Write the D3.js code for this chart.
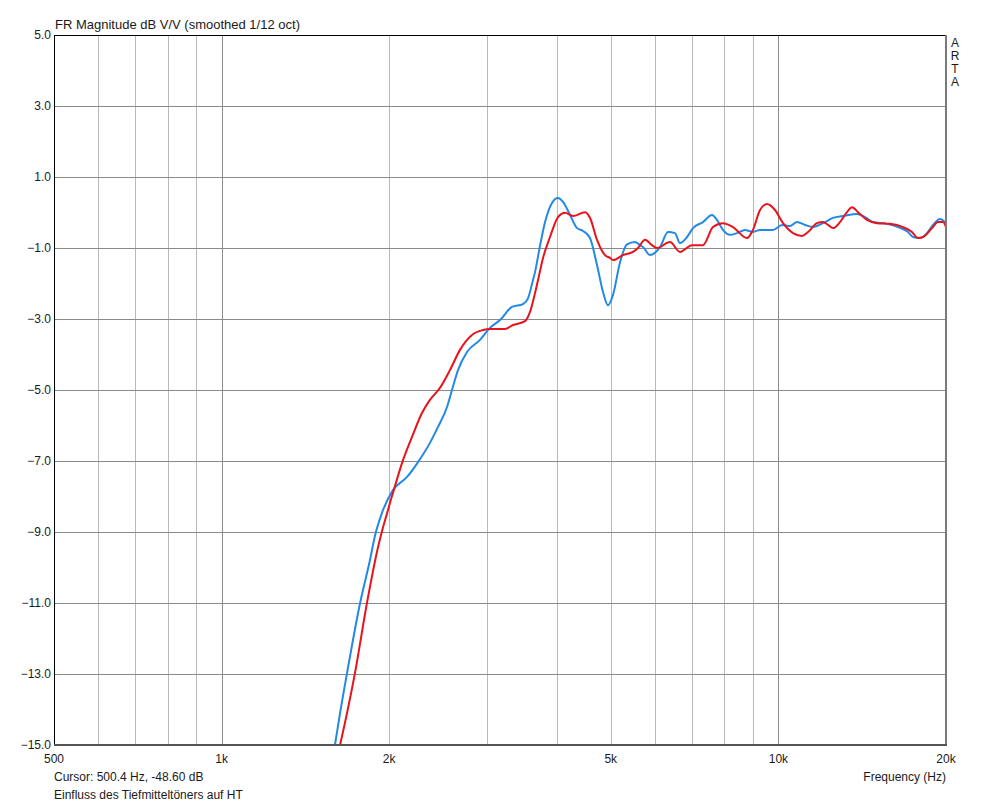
<!DOCTYPE html>
<html>
<head>
<meta charset="utf-8">
<script src="https://cdn.jsdelivr.net/npm/d3@7"></script>
<style>
  body { margin: 0; background: #fff; }
  svg text { font-family: "Liberation Sans", Arial, sans-serif; font-size: 12px; fill: #1a1a1a; }
</style>
</head>
<body>
<div id="chart"></div>
<script>
// measured curves: frequency (Hz) and level (dB)
const blueFreq = [1598, 1632, 1680, 1773, 1847, 1886, 1941, 2031, 2153, 2253, 2367, 2447, 2540, 2593, 2658, 2759, 2911, 3034, 3162, 3323, 3478, 3550, 3625, 3655, 3731, 3810, 3921, 4020, 4104, 4225, 4349, 4458, 4588, 4723, 4842, 4943, 5046, 5195, 5347, 5526, 5642, 5712, 5880, 6131, 6335, 6520, 6657, 6853, 7025, 7320, 7598, 7756, 7950, 8184, 8427, 8709, 9002, 9268, 9779, 10152, 10492, 10800, 11164, 11539, 12026, 12537, 13062, 13841, 14306, 14789, 15668, 16398, 17092, 17447, 17960, 18490, 18956, 19510, 19918, 20000];
const blueDb = [-15.0, -14.10, -12.97, -11.00, -9.79, -9.10, -8.46, -7.82, -7.45, -7.03, -6.49, -6.04, -5.48, -5.00, -4.44, -3.93, -3.59, -3.25, -3.03, -2.66, -2.58, -2.42, -1.90, -1.68, -0.94, -0.27, 0.27, 0.41, 0.30, -0.07, -0.44, -0.52, -0.72, -1.48, -2.24, -2.61, -2.32, -1.40, -0.90, -0.83, -0.92, -0.97, -1.20, -0.97, -0.55, -0.58, -0.86, -0.69, -0.44, -0.27, -0.07, -0.21, -0.49, -0.63, -0.58, -0.49, -0.55, -0.49, -0.49, -0.35, -0.38, -0.27, -0.35, -0.41, -0.30, -0.15, -0.10, -0.04, -0.13, -0.27, -0.32, -0.41, -0.55, -0.69, -0.72, -0.58, -0.35, -0.18, -0.27, -0.30];

const redFreq = [1632, 1680, 1736, 1824, 1910, 1950, 1990, 2006, 2031, 2118, 2198, 2290, 2367, 2467, 2571, 2680, 2816, 2948, 3034, 3228, 3337, 3507, 3580, 3655, 3701, 3778, 3889, 4020, 4138, 4277, 4496, 4588, 4723, 4882, 4984, 5046, 5259, 5480, 5596, 5760, 5928, 6053, 6387, 6657, 6996, 7320, 7630, 7950, 8288, 8781, 9002, 9268, 9540, 9861, 10195, 10623, 11026, 11304, 11731, 12026, 12278, 12537, 12902, 13279, 13558, 13899, 14425, 15037, 15863, 16742, 17375, 17812, 18185, 18878, 19351, 19753, 20000];
const redDb = [-15.0, -14.10, -12.97, -11.00, -9.42, -8.86, -8.38, -8.18, -7.90, -6.97, -6.32, -5.65, -5.28, -4.94, -4.44, -3.87, -3.45, -3.31, -3.28, -3.28, -3.17, -3.06, -2.80, -2.27, -1.90, -1.28, -0.69, -0.13, -0.01, -0.10, 0.01, -0.15, -0.77, -1.20, -1.28, -1.34, -1.20, -1.11, -1.00, -0.77, -0.92, -1.00, -0.83, -1.11, -0.92, -0.92, -0.41, -0.30, -0.41, -0.72, -0.49, 0.07, 0.24, 0.07, -0.30, -0.58, -0.66, -0.55, -0.30, -0.27, -0.35, -0.44, -0.27, 0.01, 0.15, 0.01, -0.21, -0.30, -0.32, -0.41, -0.55, -0.72, -0.69, -0.44, -0.27, -0.27, -0.41];

const yTicks = [5, 3, 1, -1, -3, -5, -7, -9, -11, -13, -15];
const xGrid = [600, 700, 800, 900, 1000, 2000, 3000, 4000, 5000, 6000, 7000, 8000, 9000, 10000];
const xLabels = [500, 1000, 2000, 5000, 10000, 20000];

const width = 1000, height = 805;
const plotLeft = 54, plotRight = 946, plotTop = 35, plotBottom = 745;

const svg = d3.select('#chart').append('svg')
  .attr('width', width)
  .attr('height', height);

const x = d3.scaleLog().domain([500, 20000]).range([plotLeft, plotRight]);
const y = d3.scaleLinear().domain([-15, 5]).range([plotBottom, plotTop]);

// grid
svg.append('g').selectAll('line')
  .data(xGrid)
  .enter().append('line')
  .attr('x1', d => Math.round(x(d)) + 0.5)
  .attr('x2', d => Math.round(x(d)) + 0.5)
  .attr('y1', plotTop)
  .attr('y2', plotBottom)
  .attr('stroke', d => (d === 1000 || d === 10000) ? '#8a8a8a' : '#b8b8b8')
  .attr('stroke-width', 1);

svg.append('g').selectAll('line')
  .data(yTicks.slice(1, -1))
  .enter().append('line')
  .attr('x1', plotLeft)
  .attr('x2', plotRight)
  .attr('y1', d => Math.round(y(d)) + 0.5)
  .attr('y2', d => Math.round(y(d)) + 0.5)
  .attr('stroke', '#8a8a8a')
  .attr('stroke-width', 1);

// curves
const line = d3.line()
  .x(d => x(d[0]))
  .y(d => y(d[1]))
  .curve(d3.curveMonotoneX);

svg.append('clipPath').attr('id', 'plot')
  .append('rect')
  .attr('x', plotLeft).attr('y', plotTop)
  .attr('width', plotRight - plotLeft).attr('height', plotBottom - plotTop);

svg.append('path')
  .datum(d3.zip(blueFreq, blueDb))
  .attr('clip-path', 'url(#plot)')
  .attr('fill', 'none')
  .attr('stroke', '#2389e6')
  .attr('stroke-width', 2)
  .attr('d', line);

svg.append('path')
  .datum(d3.zip(redFreq, redDb))
  .attr('clip-path', 'url(#plot)')
  .attr('fill', 'none')
  .attr('stroke', '#e8131b')
  .attr('stroke-width', 2)
  .attr('d', line);

// frame
svg.append('line').attr('x1', plotLeft + 0.5).attr('x2', plotLeft + 0.5).attr('y1', plotTop).attr('y2', plotBottom + 1).attr('stroke', '#000');
svg.append('line').attr('x1', plotLeft).attr('x2', plotRight).attr('y1', plotTop + 0.5).attr('y2', plotTop + 0.5).attr('stroke', '#000');
svg.append('line').attr('x1', plotRight).attr('x2', plotRight).attr('y1', plotTop).attr('y2', plotBottom + 1).attr('stroke', '#7a7a7a').attr('stroke-width', 2);
svg.append('line').attr('x1', plotLeft).attr('x2', plotRight + 1).attr('y1', plotBottom).attr('y2', plotBottom).attr('stroke', '#555').attr('stroke-width', 2);

// tick labels
svg.append('g').selectAll('text')
  .data(yTicks)
  .enter().append('text')
  .attr('x', plotLeft - 3)
  .attr('y', d => y(d) + 4)
  .attr('text-anchor', 'end')
  .text(d => d3.format('.1f')(d));

svg.append('g').selectAll('text')
  .data(xLabels)
  .enter().append('text')
  .attr('x', d => x(d))
  .attr('y', 763)
  .attr('text-anchor', 'middle')
  .text(d => d >= 1000 ? (d / 1000) + 'k' : d);

svg.append('text').attr('x', 55).attr('y', 29).style('font-size', '13px').text('FR Magnitude dB V/V (smoothed 1/12 oct)');
svg.append('text').attr('x', plotRight).attr('y', 781).attr('text-anchor', 'end').text('Frequency (Hz)');
svg.append('text').attr('x', 54).attr('y', 781).text('Cursor: 500.4 Hz, -48.60 dB');
svg.append('text').attr('x', 54).attr('y', 799).text('Einfluss des Tiefmitteltöners auf HT');

svg.append('g').selectAll('text')
  .data(['A', 'R', 'T', 'A'])
  .enter().append('text')
  .attr('x', 955)
  .attr('y', (d, i) => 47 + i * 13)
  .attr('text-anchor', 'middle')
  .text(d => d);
</script>
</body>
</html>
